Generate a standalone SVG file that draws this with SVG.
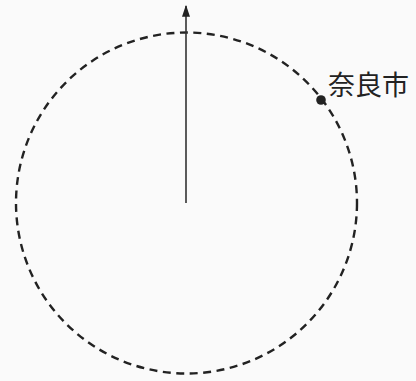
<svg xmlns="http://www.w3.org/2000/svg" width="416" height="381" viewBox="0 0 416 381">
<style>
.c{fill:none;stroke:#222;stroke-width:2.4;stroke-dasharray:8 5.5}
.a{stroke:#333;stroke-width:1.6;fill:none}
.t{font-family:"Noto Sans CJK JP",sans-serif;font-size:27px;fill:#222}
</style>
<defs>
<marker id="ah" viewBox="0 0 10 10" refX="9" refY="5" markerWidth="12" markerHeight="8" markerUnits="userSpaceOnUse" orient="auto" preserveAspectRatio="none">
<path d="M0,0 L10,5 L0,10 Z" fill="#222"/>
</marker>
</defs>
<rect width="416" height="381" fill="#fafafa"/>
<g id="orbit"><circle class="c" cx="186.5" cy="203" r="170.5"/></g>
<g id="connectors"><line class="a" x1="186" y1="203" x2="186" y2="6" marker-end="url(#ah)"/></g>
<g id="nara"><circle cx="321" cy="100" r="4.8" fill="#222"/><text class="t" x="328" y="95">奈良市</text></g>
</svg>
